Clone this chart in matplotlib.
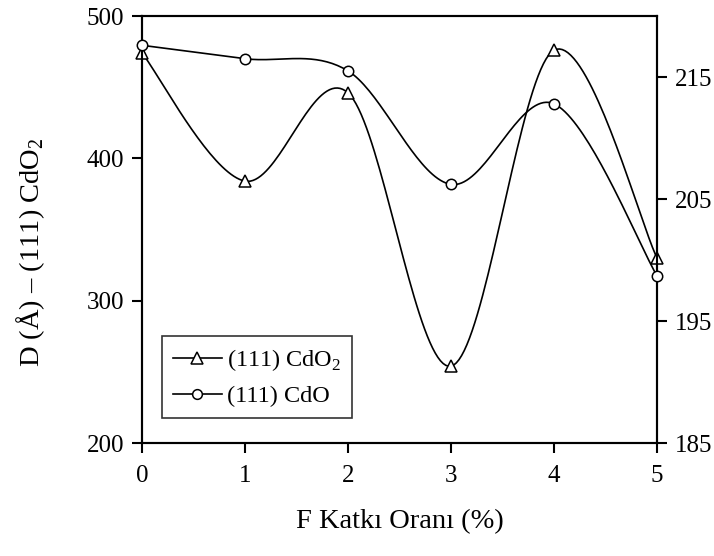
import numpy as np
import matplotlib
matplotlib.use("Agg")
import matplotlib.pyplot as plt
from matplotlib.lines import Line2D

plt.rcParams['font.family'] = ['Liberation Serif', 'DejaVu Serif']
plt.rcParams['mathtext.fontset'] = 'custom'
plt.rcParams['mathtext.rm'] = 'Liberation Serif'

x_vals = [0, 1, 2, 3, 4, 5]
cdo2_vals = [474, 384, 446, 254, 476, 330]          # left axis
cdo_vals = [217.6, 216.5, 215.5, 206.2, 212.8, 198.7]  # right axis
left_ticks = [200, 300, 400, 500]
right_ticks = [185, 195, 205, 215]
x_ticks = [0, 1, 2, 3, 4, 5]


def smooth(xs, ys, n=40):
    xs = np.asarray(xs, float)
    ys = np.asarray(ys, float)
    P = np.column_stack([xs, ys])
    out = []
    m = len(P)
    for i in range(m - 1):
        p0 = P[i - 1] if i > 0 else P[i]
        p1 = P[i]
        p2 = P[i + 1]
        p3 = P[i + 2] if i + 2 < m else P[i + 1]
        c1 = p1 + (p2 - p0) / 6.0
        c2 = p2 - (p3 - p1) / 6.0
        t = np.linspace(0, 1, n)[:, None]
        seg = ((1 - t) ** 3) * p1 + 3 * ((1 - t) ** 2) * t * c1 + 3 * (1 - t) * t ** 2 * c2 + t ** 3 * p2
        out.append(seg if i == 0 else seg[1:])
    S = np.vstack(out)
    return S[:, 0], S[:, 1]


fig = plt.figure(figsize=(7.14, 5.56), dpi=100)
ax = fig.add_axes([0.1989, 0.2032, 0.7213, 0.768])
ax2 = ax.twinx()

lw = 1.2
sx, sy = smooth(x_vals, cdo2_vals)
ax.plot(sx, sy, color='black', lw=lw)
ax.plot(x_vals, cdo2_vals, ls='none', marker='^', ms=9, mfc='white', mec='black', mew=1.1, clip_on=False, zorder=5)

sx2, sy2 = smooth(x_vals, cdo_vals)
ax2.plot(sx2, sy2, color='black', lw=lw)
ax2.plot(x_vals, cdo_vals, ls='none', marker='o', ms=7.5, mfc='white', mec='black', mew=1.1, clip_on=False, zorder=5)

ax.set_xlim(0, 5)
ax.set_ylim(200, 500)
ax2.set_ylim(185, 220)
ax.set_xticks(x_ticks)
ax.set_yticks(left_ticks)
ax2.set_yticks(right_ticks)

for a in (ax, ax2):
    for s in a.spines.values():
        s.set_linewidth(1.5)
ax.tick_params(axis='both', direction='out', length=7, width=1.5, labelsize=18, pad=6)
ax.tick_params(axis='x', pad=9)
ax2.tick_params(axis='y', direction='out', length=7, width=1.5, labelsize=18, pad=6)

ax.set_xlabel('F Katkı Oranı (%)', fontsize=20.5, labelpad=16)
ax.set_ylabel('D (Å) – (111) CdO$_2$', fontsize=20.5)
ax.yaxis.set_label_coords(-0.185, 0.447)

handles = [
    Line2D([], [], color='black', lw=lw, marker='^', ms=9, mfc='white', mec='black', mew=1.1),
    Line2D([], [], color='black', lw=lw, marker='o', ms=7, mfc='white', mec='black', mew=1.1),
]
leg = ax.legend(handles, ['(111) CdO$_2$', '(111) CdO'], loc='lower left',
                bbox_to_anchor=(0.039, 0.058), fontsize=17.5, frameon=True, fancybox=False,
                edgecolor='black', handlelength=2.0, handletextpad=0.2, borderpad=0.45,
                labelspacing=0.5, borderaxespad=0)
leg.get_frame().set_linewidth(1.2)
leg.set_zorder(10)

fig.savefig('out.png', dpi=100)
